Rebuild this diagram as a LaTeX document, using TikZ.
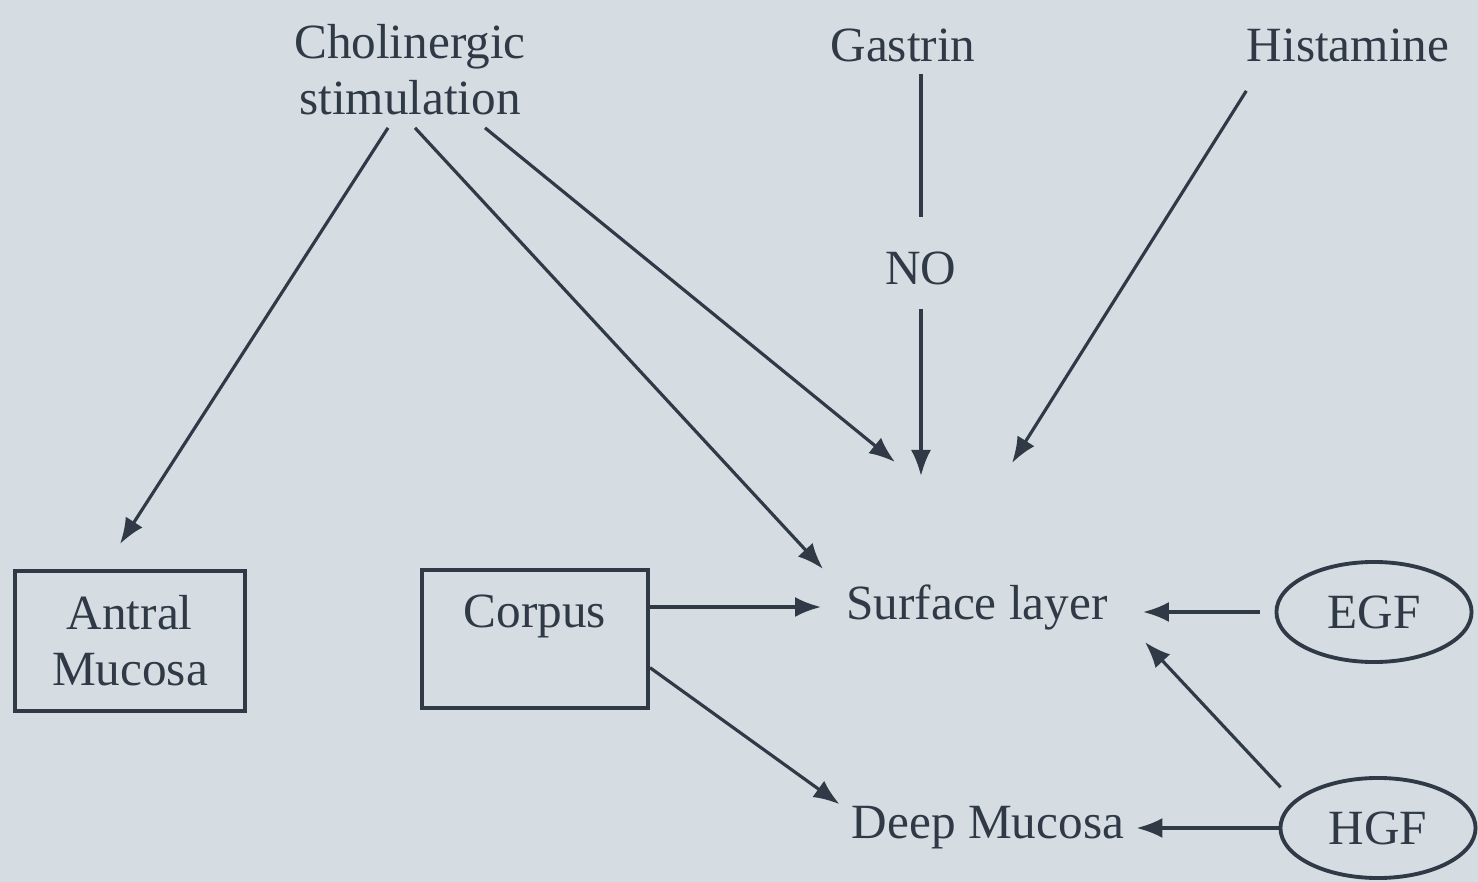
\documentclass[tikz,border=0pt]{standalone}
\usepackage{fontspec}
\setmainfont{Liberation Serif}
\usetikzlibrary{positioning,arrows.meta,shapes.geometric}
\definecolor{paper}{HTML}{D5DCE2}
\definecolor{ink}{HTML}{2F3A46}

\begin{document}
\begin{tikzpicture}[
        x=0.01cm, y=-0.01cm,
        every node/.style={font=\fontsize{14}{16}\selectfont, text=ink},
        box/.style={draw=ink, line width=1.1pt, align=center,
                    minimum width=2.3cm, minimum height=1.4cm},
        oval/.style={draw=ink, ellipse, line width=1.1pt, inner sep=0pt,
                     minimum width=1.95cm, minimum height=1cm},
        arrow/.style={-{Latex[length=2.6mm,width=2mm]}, draw=ink, line width=0.9pt},
        link/.style={draw=ink, line width=0.9pt}
    ]
        \fill[paper] (0,0) rectangle (1478,882);
        \useasboundingbox (0,0) rectangle (1478,882);

        % stimuli
        \node[align=center] (chol) at (410,70) {Cholinergic\\stimulation};
        \node (gas) at (903,45) {Gastrin};
        \node (his) at (1348,45) {Histamine};
        \node (no)  at (921,268) {NO};

        % mucosa
        \node[box, align=left] (antral) at (130,641) {\hspace{0.3em}Antral\\Mucosa};
        \node[box, minimum width=2.26cm, minimum height=1.38cm] (corpus) at (535,639) {Corpus\\~};
        \node (surf) at (977,607) {Surface layer};
        \node (deep) at (988,828) {Deep Mucosa};
        \node[oval] (egf) at (1374,612) {EGF};
        \node[oval] (hgf) at (1378,828) {HGF};

        % free arrow ends above the surface layer
        \coordinate (tipa) at (895,462);
        \coordinate (tipb) at (921,476);
        \coordinate (tipc) at (1012,463);

        \draw[arrow] ([xshift=-0.22cm]chol.south) -- ([xshift=-0.1cm,yshift=0.25cm]antral.north);
        \draw[arrow] ([xshift=0.05cm]chol.south) -- ([xshift=-0.11cm,yshift=0.03cm]surf.north west);
        \draw[arrow] ([xshift=0.75cm]chol.south) -- (tipa);
        \draw[link, shorten >=0.22cm] (gas.south -| no) -- (no);
        \draw[arrow, shorten <=0.12cm] (no) -- (tipb);
        \draw[arrow, shorten <=0.2cm] ([xshift=-0.91cm]his.south) -- (tipc);

        \draw[arrow, shorten >=0.13cm] (corpus.east |- surf.west) -- (surf.west);
        \draw[arrow] (corpus.-14) -- ([yshift=-0.1cm]deep.north west);
        \draw[arrow, shorten <=0.15cm] (egf.west) -- ([xshift=0.23cm]surf.east |- egf.west);
        \draw[arrow] ([xshift=-0.27cm,yshift=0.04cm]hgf.north west) -- ([xshift=0.25cm]surf.south east);
        \draw[arrow] (hgf.west) -- (deep.east);
\end{tikzpicture}
\end{document}
